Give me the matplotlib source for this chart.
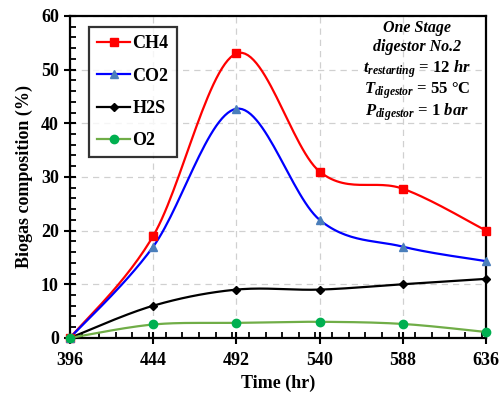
import numpy as np
import matplotlib
matplotlib.use("Agg")
import matplotlib.pyplot as plt
from matplotlib.ticker import MultipleLocator

time_hr = [396, 444, 492, 540, 588, 636]
ch4 = [0, 19, 53, 31, 27.8, 20]
co2 = [0, 17, 42.7, 22, 17, 14.3]
h2s = [0, 6, 9, 9, 10, 11]
o2 = [0, 2.5, 2.8, 3, 2.6, 1.1]
x_ticks = [396, 444, 492, 540, 588, 636]

plt.rcParams['font.family'] = ['Liberation Serif', 'DejaVu Sans']
plt.rcParams['font.weight'] = 'bold'
plt.rcParams['mathtext.fontset'] = 'custom'
plt.rcParams['mathtext.rm'] = 'Liberation Serif:bold'
plt.rcParams['mathtext.it'] = 'Liberation Serif:italic:bold'
plt.rcParams['mathtext.bf'] = 'Liberation Serif:bold'


def smooth(x, y, n=30):
    # Catmull-Rom style smoothing for drawing the line (like spreadsheet smooth lines)
    x = np.asarray(x, float); y = np.asarray(y, float)
    px = np.concatenate([[x[0]], x, [x[-1]]])
    py = np.concatenate([[y[0]], y, [y[-1]]])
    xs, ys = [], []
    for i in range(1, len(px) - 2):
        p0, p1, p2, p3 = [np.array([px[j], py[j]]) for j in (i - 1, i, i + 1, i + 2)]
        c1 = p1 + (p2 - p0) / 6
        c2 = p2 - (p3 - p1) / 6
        t = np.linspace(0, 1, n)[:, None]
        b = (1 - t) ** 3 * p1 + 3 * (1 - t) ** 2 * t * c1 + 3 * (1 - t) * t ** 2 * c2 + t ** 3 * p2
        xs.append(b[:, 0]); ys.append(b[:, 1])
    return np.concatenate(xs), np.concatenate(ys)


fig = plt.figure(figsize=(5.0, 3.98), dpi=100)
ax = fig.add_axes([0.14, 0.151, 0.832, 0.809])

series = [
    ("CH4", ch4, "#FF0000", "s", "#FF0000", 6),
    ("CO2", co2, "#0000FF", "^", "#4A7EBB", 6),
    ("H2S", h2s, "#000000", "D", "#000000", 4),
    ("O2", o2, "#70AD47", "o", "#00B050", 6),
]
for name, vals, lc, mk, mc, ms in series:
    sx, sy = smooth(time_hr, vals)
    ax.plot(sx, sy, color=lc, lw=1.6, zorder=3, clip_on=False)
    ax.plot(time_hr, vals, ls="none", marker=mk, color=mc, ms=ms, zorder=4, clip_on=False)
    ax.plot([], [], color=lc, lw=1.6, marker=mk, mfc=mc, mec=mc, ms=ms, label=name)

ax.set_xlim(396, 636)
ax.set_ylim(0, 60)
ax.set_xticks(x_ticks)
ax.xaxis.set_minor_locator(MultipleLocator(9.6))
ax.yaxis.set_major_locator(MultipleLocator(10))
ax.yaxis.set_minor_locator(MultipleLocator(2))
ax.grid(True, which="major", ls=(0, (5, 4)), color="#D0D0D0", lw=0.9)
ax.set_axisbelow(True)
for s in ax.spines.values():
    s.set_linewidth(1.6)
ax.tick_params(which="major", direction="inout", length=9, width=1.5, labelsize=13)
ax.tick_params(which="minor", direction="in", length=4, width=1.3)
ax.tick_params(axis="x", pad=6)
for lab in ax.get_xticklabels() + ax.get_yticklabels():
    lab.set_fontweight("bold")

ax.set_xlabel("Time (hr)", fontsize=13, fontweight="bold", labelpad=4)
ax.set_ylabel("Biogas composition (%)", fontsize=13, fontweight="bold", labelpad=6)

leg = ax.legend(loc="upper left", bbox_to_anchor=(0.046, 0.965), fontsize=13,
                frameon=True, fancybox=False, edgecolor="black", handlelength=1.8,
                handletextpad=0.15, labelspacing=0.85, borderpad=0.45,
                borderaxespad=0.0)
leg.get_frame().set_linewidth(1.6)
for t in leg.get_texts():
    t.set_fontweight("bold")

tx = 0.834
ax.text(tx, 0.963, "One Stage", transform=ax.transAxes, ha="center", va="center",
        fontsize=11.5, fontstyle="italic", fontweight="bold")
ax.text(tx, 0.902, "digestor No.2", transform=ax.transAxes, ha="center", va="center",
        fontsize=11.5, fontstyle="italic", fontweight="bold")
ax.text(tx, 0.836, r"$t_{restarting}$ = $12\ hr$", transform=ax.transAxes, ha="center",
        va="center", fontsize=12)
ax.text(tx, 0.769, r"$T_{digestor}$ = 55 °C", transform=ax.transAxes, ha="center",
        va="center", fontsize=12, fontweight="bold")
ax.text(tx, 0.702, r"$P_{digestor}$ = 1 $bar$", transform=ax.transAxes, ha="center",
        va="center", fontsize=12, fontweight="bold")

fig.savefig("out.png", dpi=100)
